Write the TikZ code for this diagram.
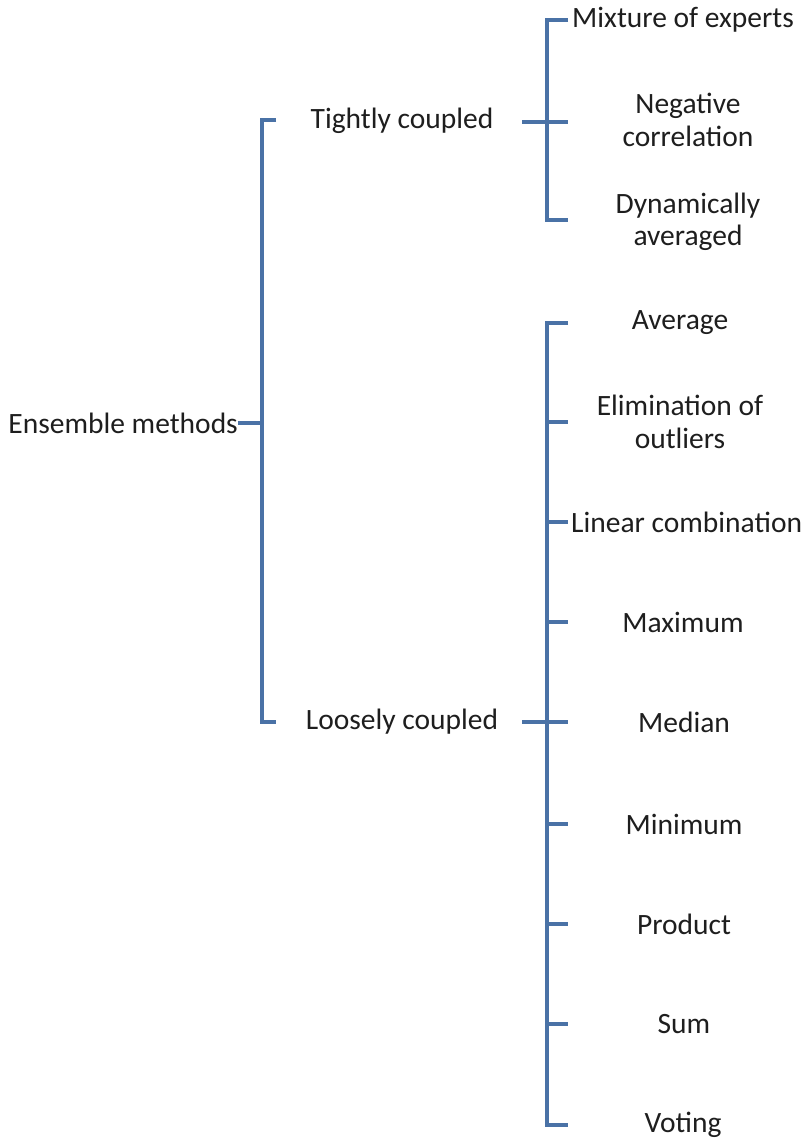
\documentclass[tikz,border=0pt]{standalone}
\usepackage{fontspec}
\setmainfont{Carlito}
\definecolor{barblue}{RGB}{74,114,166}
\definecolor{labelink}{RGB}{30,30,30}
\begin{document}
\begin{tikzpicture}[x=1pt,y=-1pt,
  bracket/.style={draw=barblue,line width=3.4pt,line cap=butt,line join=miter},
  lbl/.style={text=labelink,inner sep=0pt,align=center,
    font=\fontsize{29.5}{32.5}\selectfont}]
\useasboundingbox (0,0) rectangle (806,1140);
\fill[white] (0,0) rectangle (806,1140);

% root and first split
\node[lbl,anchor=east] (root) at (238,423) {Ensemble methods};
\coordinate (r0) at (262,423);
\coordinate (rt) at (262,120);
\coordinate (rb) at (262,722);
\coordinate (rtE) at (276,120);
\coordinate (rbE) at (276,722);
\draw[bracket] (root.east) -- (r0);
\draw[bracket] (rtE) -- (rt) -- (rb) -- (rbE);

% second level
\node[lbl] (tight) at (402,121) {Tightly coupled};
\node[lbl] (loose) at (402,722) {Loosely coupled};

% tightly coupled branch
\coordinate (t0) at (522,122);
\coordinate (tx) at (547,122);
\coordinate (tt) at (547,20);
\coordinate (tb) at (547,220);
\node[lbl,anchor=west] (mix) at (572,20) {Mixture of experts};
\node[lbl] (neg) at (688,120) {Negative\\correlation};
\node[lbl] (dyn) at (688,222) {Dynamically\\averaged};
\coordinate (tmE) at (568,122);
\coordinate (ttE) at (568,20);
\coordinate (tbE) at (568,220);
\draw[bracket] (t0) -- (tmE);
\draw[bracket] (ttE) -- (tt) -- (tb) -- (tbE);

% loosely coupled branch
\coordinate (l0) at (522,722);
\coordinate (lt) at (547,323);
\coordinate (lb) at (547,1125);
\draw[bracket] (l0) -- (547,722);
\draw[bracket] (568,323) -- (lt) -- (lb) -- (568,1125);

\node[lbl] (avg) at (680,323) {Average};
\node[lbl] (elim) at (680,422) {Elimination of\\outliers};
\node[lbl,anchor=west] (lin) at (571,522) {Linear combination};
\node[lbl] (max) at (683,622) {Maximum};
\node[lbl] (med) at (684,722) {Median};
\node[lbl] (min) at (684,824) {Minimum};
\node[lbl] (prod) at (684,924) {Product};
\node[lbl] (sum) at (684,1024) {Sum};
\node[lbl] (vot) at (683,1125) {Voting};

\foreach \yy in {422,522,622,722,824,924,1024}
  \draw[bracket] (547,\yy) -- (568,\yy);
\end{tikzpicture}
\end{document}
